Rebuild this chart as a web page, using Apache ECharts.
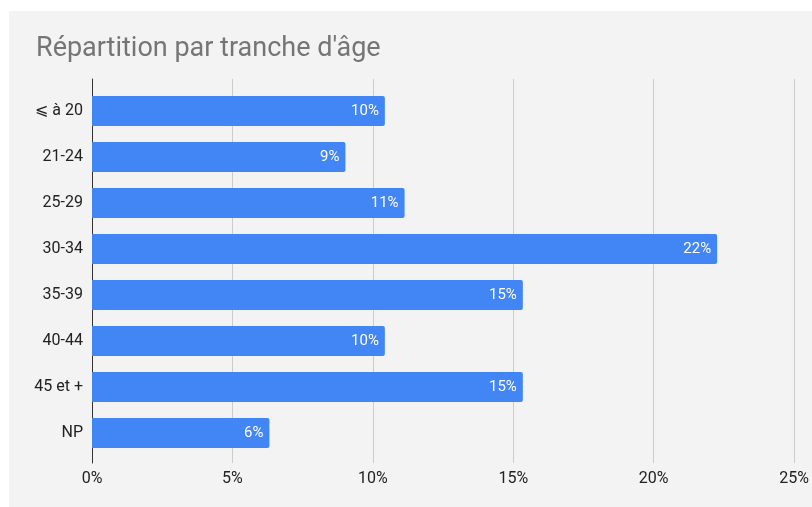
<!DOCTYPE html>
<html>
<head>
<meta charset="utf-8">
<script src="https://cdn.jsdelivr.net/npm/echarts@6/dist/echarts.min.js"></script>
<style>
html,body{margin:0;padding:0;background:#fff;}
#c{width:812px;height:507px;}
</style>
</head>
<body>
<div id="c"></div>
<script>
const titleText = "Répartition par tranche d'âge";
const categories = ["⩽ à 20", "21-24", "25-29", "30-34", "35-39", "40-44", "45 et +", "NP"];
const values = [10.4, 9.0, 11.1, 22.2, 15.3, 10.4, 15.3, 6.3];
const xTicks = [0, 5, 10, 15, 20, 25];

const chart = echarts.init(document.getElementById('c'), null, {renderer: 'canvas'});
const font = 'Roboto, "Liberation Sans", Arial, sans-serif';
chart.setOption({
  backgroundColor: '#ffffff',
  animation: false,
  textStyle: {fontFamily: font},
  title: {
    text: titleText,
    left: 31, top: 31,
    textStyle: {fontFamily: font, fontSize: 27, fontWeight: 'normal', color: '#757575'}
  },
  graphic: [{
    type: 'rect', z: -10, silent: true,
    shape: {x: 9, y: 11, width: 803, height: 496},
    style: {fill: '#f3f3f3'}
  }],
  grid: [
    {left: 92, right: 16, top: 79, height: 384},
    {left: 92, right: 16, top: 88, height: 368}
  ],
  xAxis: [
    {
      gridIndex: 0, type: 'value', min: xTicks[0], max: xTicks[xTicks.length - 1], interval: 5,
      axisLine: {show: false}, axisTick: {show: false},
      axisLabel: {formatter: v => v + '%', color: '#222', fontSize: 16, margin: 8, fontFamily: font},
      splitLine: {show: true, lineStyle: {color: '#cccccc', width: 1}}
    },
    {
      gridIndex: 1, type: 'value', min: xTicks[0], max: xTicks[xTicks.length - 1], interval: 5,
      show: false, splitLine: {show: false}
    }
  ],
  yAxis: [
    {
      gridIndex: 0, type: 'value', min: 0, max: 1,
      axisLine: {show: true, onZero: false, lineStyle: {color: '#333', width: 1}},
      axisTick: {show: false}, axisLabel: {show: false}, splitLine: {show: false}
    },
    {
      gridIndex: 1, type: 'category', data: categories, inverse: true,
      axisLine: {show: false}, axisTick: {show: false}, splitLine: {show: false},
      axisLabel: {color: '#222', fontSize: 16, margin: 9, fontFamily: font}
    }
  ],
  series: [{
    type: 'bar', xAxisIndex: 1, yAxisIndex: 1,
    data: values,
    barWidth: 30,
    itemStyle: {color: '#4285f4', borderRadius: [0, 2, 2, 0]},
    label: {
      show: true, position: 'insideRight', distance: 6,
      formatter: p => Math.round(p.value) + '%',
      color: '#ffffff', fontSize: 15, fontFamily: font
    }
  }]
});
</script>
</body>
</html>
